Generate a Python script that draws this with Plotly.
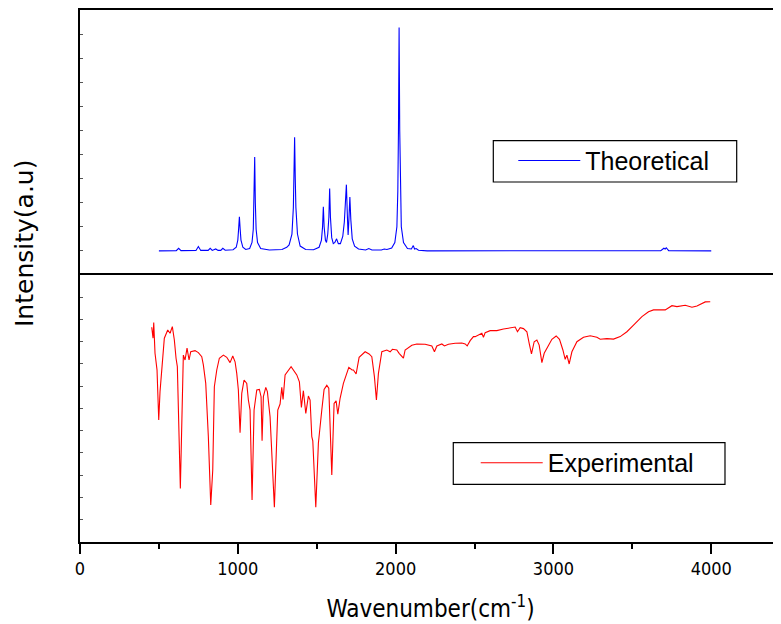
import plotly.graph_objects as go
from plotly.subplots import make_subplots

# ---------------- data ----------------
theo_wavenumber = [
    500, 610, 625, 640, 735, 750, 765, 812, 825, 838, 860, 875, 892, 905, 920,
    970, 990, 1000, 1005, 1010, 1015, 1020, 1032, 1050,
    1075, 1090, 1098, 1103, 1107, 1111, 1116, 1125, 1145,
    1200, 1280, 1300, 1310, 1325, 1343, 1352, 1356, 1360, 1364, 1368, 1378, 1395, 1430,
    1480, 1515, 1530, 1537, 1542, 1547, 1555, 1562, 1570, 1577, 1582, 1587, 1595, 1605,
    1615, 1626, 1637, 1650, 1665, 1675, 1682, 1688, 1694, 1699, 1704, 1710, 1716, 1725,
    1740, 1765, 1810, 1830, 1850, 1910, 1928, 1945, 1975, 1995, 2008, 2014, 2018, 2022,
    2026, 2030, 2036, 2050, 2075, 2100, 2112, 2120, 2130, 2145, 2200,
    3680, 3700, 3708, 3715, 3730, 4000,
]
theo_intensity = [
    0, 0.01, 0.11, 0.01, 0.02, 0.18, 0.02, 0.02, 0.11, 0.02, 0.08, 0.02, 0.02, 0.11, 0.03,
    0.05, 0.15, 0.45, 0.9, 1.42, 0.9, 0.45, 0.15, 0.06,
    0.1, 0.35, 0.9, 2.0, 3.9, 2.0, 0.9, 0.35, 0.1,
    0.04, 0.06, 0.12, 0.15, 0.25, 0.7, 1.8, 3.0, 4.72, 3.0, 1.8, 0.7, 0.2, 0.06,
    0.05, 0.15, 0.45, 1.0, 1.83, 1.0, 0.45, 0.35, 0.7, 1.4, 2.59, 1.4, 0.55, 0.3,
    0.35, 0.5, 0.3, 0.3, 0.6, 1.2, 2.0, 2.75, 1.5, 0.66, 1.3, 2.24, 1.3, 0.5,
    0.2, 0.08, 0.04, 0.1, 0.04, 0.04, 0.08, 0.06, 0.12, 0.35, 1.0, 2.5, 5.0, 9.27,
    5.0, 2.5, 1.0, 0.35, 0.1, 0.08, 0.22, 0.08, 0.1, 0.03, 0,
    0.01, 0.11, 0.08, 0.13, 0.01, 0,
]

exp_wavenumber = [
    454.5, 462.8, 467.2, 475.4, 488.1, 498.9, 507.1, 517.9, 534.4, 555.9, 570.5, 585.1,
    597.8, 608.6, 616.8, 635.8, 654.8, 665.6, 678.3, 691.0, 701.7, 729.0, 749.9, 771.5,
    781.6, 796.8, 813.3, 828.5, 841.2, 851.3, 866.6, 883.0, 908.4, 929.9, 950.9, 968.0,
    982.6, 993.3, 1003.5, 1014.3, 1025.0, 1039.6, 1056.7, 1066.9, 1077.7, 1090.3, 1103.0,
    1120.1, 1136.6, 1147.4, 1153.7, 1162.0, 1177.2, 1187.3, 1196.2, 1204.4, 1231.7, 1253.2,
    1267.8, 1278.6, 1286.8, 1299.5, 1337.6, 1373.7, 1390.2, 1402.9, 1415.5, 1430.8, 1447.2,
    1458.0, 1468.8, 1475.1, 1494.1, 1510.6, 1532.2, 1546.7, 1563.9, 1576.5, 1595.6, 1610.1,
    1622.8, 1633.6, 1648.2, 1669.1, 1703.3, 1724.2, 1732.5, 1749.6, 1768.6, 1806.7, 1832.0,
    1849.1, 1865.6, 1878.3, 1891.0, 1912.5, 1944.2, 1965.1, 1979.7, 2007.6, 2022.2, 2049.4,
    2060.2, 2102.7, 2134.4, 2187.0, 2229.5, 2246.0, 2261.2, 2292.9, 2309.4, 2334.7, 2377.2,
    2419.7, 2440.6, 2453.3, 2472.3, 2493.2, 2504.0, 2546.4, 2556.6, 2567.4, 2599.1, 2641.5,
    2683.4, 2757.5, 2772.1, 2789.2, 2810.1, 2831.7, 2846.3, 2860.9, 2878.0, 2895.1, 2909.7,
    2926.8, 2941.4, 2962.3, 2990.2, 3017.4, 3038.4, 3059.9, 3074.5, 3085.3, 3099.8, 3117.0,
    3148.7, 3190.5, 3233.0, 3275.4, 3296.4, 3338.8, 3380.7, 3423.1, 3465.6, 3507.6, 3560.8,
    3602.5, 3634.2, 3708.4, 3750.9, 3782.6, 3835.2, 3877.7, 3909.4, 3962.0, 3993.7,
]
exp_intensity = [
    9.65, 9.16, 9.86, 8.48, 7.73, 5.48, 6.76, 7.81, 9.16, 9.53, 9.38, 9.68,
    9.08, 8.26, 7.88, 2.41, 8.40, 8.18, 8.71, 8.18, 8.55, 8.60, 8.51, 8.33,
    7.96, 7.13, 4.73, 1.66, 3.24, 6.98, 7.73, 8.26, 8.40, 8.30, 8.06, 8.36,
    8.10, 7.58, 6.83, 4.91, 6.68, 7.28, 7.13, 6.38, 5.93, 1.89, 5.93,
    6.83, 6.86, 6.53, 4.55, 6.53, 6.95, 6.76, 6.08, 5.63, 1.56, 5.93,
    6.20, 6.95, 6.41, 7.51, 7.88, 7.51, 7.20, 6.05, 6.80, 5.78, 6.56,
    6.38, 4.73, 4.55, 1.56, 4.44, 5.93, 6.86, 7.04, 6.91, 3.01, 6.23,
    6.35, 5.75, 6.46, 7.13, 7.85, 7.73, 7.73, 7.55, 8.30, 8.55, 8.45,
    8.33, 7.43, 6.38, 7.58, 8.55, 8.63, 8.55, 8.66, 8.63, 8.48, 8.26,
    8.63, 8.84, 8.90, 8.89, 8.81, 8.55, 8.81, 8.90, 8.81, 8.89, 8.93,
    8.94, 8.90, 8.81, 9.05, 9.23, 9.23, 9.38, 9.20, 9.41, 9.50, 9.50,
    9.57, 9.66, 9.45, 9.63, 9.59, 9.45, 8.93, 8.45, 9.00, 9.08, 8.85,
    8.06, 8.48, 8.78, 9.11, 9.26, 9.11, 8.63, 8.21, 8.40, 8.00, 8.55,
    9.00, 9.20, 9.27, 9.20, 9.11, 9.14, 9.12, 9.23, 9.45, 9.75, 10.13,
    10.35, 10.43, 10.43, 10.62, 10.58, 10.64, 10.55, 10.61, 10.79, 10.80,
]

x_tick_values = [0, 1000, 2000, 3000, 4000]
x_tick_labels = ["0", "1000", "2000", "3000", "4000"]

# ---------------- figure ----------------
fig = make_subplots(rows=2, cols=1, shared_xaxes=True, vertical_spacing=0)

fig.add_trace(go.Scatter(x=theo_wavenumber, y=theo_intensity, mode="lines",
                         name="Theoretical", line=dict(color="#0000FF", width=1.1),
                         legend="legend", showlegend=True), row=1, col=1)
fig.add_trace(go.Scatter(x=exp_wavenumber, y=exp_intensity, mode="lines",
                         name="Experimental", line=dict(color="#FF0000", width=1.1),
                         legend="legend2", showlegend=True), row=2, col=1)

narrow = "Liberation Sans Narrow, Arial Narrow, DejaVu Sans Condensed, sans-serif"
arial = "Liberation Sans, Arial, sans-serif"

split = 0.5019
leg_common = dict(xanchor="left", yanchor="middle", borderwidth=0,
                  bgcolor="rgba(0,0,0,0)", font=dict(size=25, family=arial),
                  itemwidth=62)
fig.update_layout(
    width=773, height=616,
    margin=dict(l=72, r=0, t=2, b=82),
    paper_bgcolor="white", plot_bgcolor="white",
    font=dict(family=arial, color="black"),
    showlegend=True,
    legend=dict(x=0.6181, y=0.7167, **leg_common),
    legend2=dict(x=0.5645, y=0.1485, **leg_common),
)

# legend frames
for x0, x1, y0, y1 in [(0.5896, 0.9368, 0.6767, 0.7543),
                       (0.5325, 0.9201, 0.1085, 0.1867)]:
    fig.add_shape(type="rect", xref="paper", yref="paper",
                  x0=x0, x1=x1, y0=y0, y1=y1,
                  line=dict(color="black", width=1.2), fillcolor="rgba(0,0,0,0)")

fig.update_xaxes(range=[0, 4442], showgrid=False, zeroline=False,
                 showline=True, linecolor="black", linewidth=1.7)
fig.update_xaxes(ticks="", showticklabels=False, side="top", mirror=False,
                 row=1, col=1)
fig.update_xaxes(mirror=True, ticks="outside", ticklen=10, tickwidth=1.5,
                 tickcolor="black",
                 tickvals=x_tick_values, ticktext=x_tick_labels,
                 tickfont=dict(size=18, family=narrow),
                 minor=dict(dtick=500, tick0=0, ticks="outside", ticklen=5,
                            tickwidth=1.5, tickcolor="black"),
                 title=dict(text="Wavenumber(cm<sup>-1</sup>)",
                            font=dict(size=24, family=narrow), standoff=22),
                 row=2, col=1)

fig.update_yaxes(showgrid=False, zeroline=False, showline=True, linecolor="black",
                 linewidth=1.7, mirror=False, showticklabels=False,
                 ticks="inside", ticklen=3, tickcolor="#555555", dtick=1)
fig.update_yaxes(range=[-1, 10], domain=[split, 1], row=1, col=1)
fig.update_yaxes(range=[0, 12], domain=[0, split], row=2, col=1)

fig.add_annotation(text="Intensity(a.u)", xref="paper", yref="paper",
                   x=-0.0799, y=0.562, xanchor="center", yanchor="middle",
                   textangle=-90, showarrow=False,
                   font=dict(size=25, family="DejaVu Sans, sans-serif", color="black"))

fig.write_html("out.html")
